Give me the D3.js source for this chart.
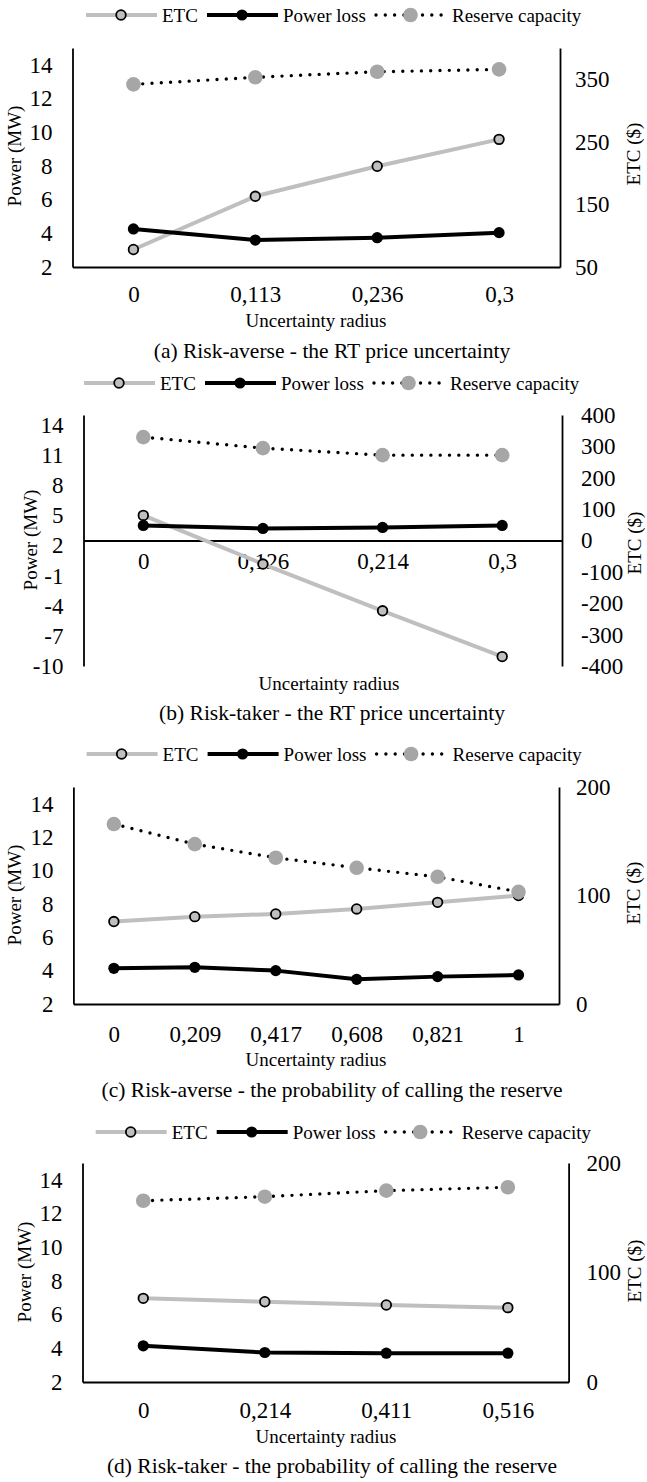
<!DOCTYPE html>
<html><head><meta charset="utf-8">
<script src="https://cdn.jsdelivr.net/npm/d3@7"></script>
<style>body{margin:0;background:#fff} svg{display:block;background:#fff}</style>
</head><body><svg id="c" width="647" height="1482"></svg>
<script>
// ---------- data ----------
const seriesNames = ["ETC", "Power loss", "Reserve capacity"];
const yLeftTitle = "Power (MW)";
const yRightTitle = "ETC ($)";
const xTitle = "Uncertainty radius";

// (a)
const catsA = ["0", "0,113", "0,236", "0,3"];
const etcA = [78, 163, 211, 254];
const lossA = [4.26, 3.60, 3.74, 4.04];
const reserveA = [12.84, 13.26, 13.59, 13.73];
const leftTicksA = [2, 4, 6, 8, 10, 12, 14];
const rightTicksA = [50, 150, 250, 350];
const captionA = "(a) Risk-averse - the RT price uncertainty";

// (b)
const catsB = ["0", "0,126", "0,214", "0,3"];
const etcB = [80, -75, -224, -370];
const lossB = [4.0, 3.7, 3.8, 4.0];
const reserveB = [12.8, 11.7, 11.0, 11.0];
const leftTicksB = [-10, -7, -4, -1, 2, 5, 8, 11, 14];
const rightTicksB = [-400, -300, -200, -100, 0, 100, 200, 300, 400];
const captionB = "(b) Risk-taker - the RT price uncertainty";

// (c)
const catsC = ["0", "0,209", "0,417", "0,608", "0,821", "1"];
const etcC = [76, 80.5, 83, 87.6, 93.7, 100];
const lossC = [4.14, 4.2, 4.0, 3.48, 3.64, 3.74];
const reserveC = [12.78, 11.58, 10.76, 10.16, 9.62, 8.72];
const leftTicksC = [2, 4, 6, 8, 10, 12, 14];
const rightTicksC = [0, 100, 200];
const captionC = "(c) Risk-averse - the probability of calling the reserve";

// (d)
const catsD = ["0", "0,214", "0,411", "0,516"];
const etcD = [76.4, 73.3, 70.3, 67.9];
const lossD = [4.15, 3.75, 3.71, 3.71];
const reserveD = [12.76, 13.0, 13.36, 13.56];
const leftTicksD = [2, 4, 6, 8, 10, 12, 14];
const rightTicksD = [0, 100, 200];
const captionD = "(d) Risk-taker - the probability of calling the reserve";

// ---------- layout ----------
const FONT = "'Liberation Serif', 'Times New Roman', serif";
const layoutA = {L:72.5, R:560, top:48, bottom:267, ld:[2,15], rd:[50,400], cross:null, xPad:18.5, rPad:15,
  legendX:86, legendY:15, xTitleX:316, xTitleY:327, captionY:358, lTitleX:21, lTitleY:156, rTitleX:640, rTitleY:154};
const layoutB = {L:83.5, R:562, top:415, bottom:666, ld:[-10,15], rd:[-400,400], cross:0, xPad:12.5, rPad:19,
  legendX:84, legendY:383, xTitleX:329, xTitleY:690, captionY:720, lTitleX:37, lTitleY:540, rTitleX:641, rTitleY:543};
const layoutC = {L:73.4, R:559, top:787, bottom:1004, ld:[2,15], rd:[0,200], cross:null, xPad:21.5, rPad:17,
  legendX:86.6, legendY:754, xTitleX:316, xTitleY:1066, captionY:1097, lTitleX:21, lTitleY:895, rTitleX:640, rTitleY:893};
const layoutD = {L:82.5, R:568.6, top:1163, bottom:1382, ld:[2,15], rd:[0,200], cross:null, xPad:19.5, rPad:18,
  legendX:95.7, legendY:1132, xTitleX:326, xTitleY:1443, captionY:1473, lTitleX:31, lTitleY:1272, rTitleX:641, rTitleY:1271};

const svg = d3.select("#c");
const CAPTION_X = 332;

const sty = {
  etcLine: "#bfbfbf", etcFill: "#bfbfbf", resFill: "#a6a6a6",
  lineW: 4, dotW: 3.4, dash: "0 9.3",
  rEtc: 4.8, rLoss: 5.6, rRes: 7.3
};

function styleAxis(g, size) {
  g.attr("font-family", null).attr("font-size", null);
  g.select(".domain").attr("stroke", "#000").attr("stroke-width", 1.8);
  g.selectAll("text").attr("fill", "#000").style("font-family", FONT).style("font-size", size + "px");
}

function drawLegend(p) {
  const g = svg.append("g").attr("transform", `translate(${p.legendX},${p.legendY})`);
  // ETC
  g.append("line").attr("x1", 0).attr("x2", 71).attr("y1", 0).attr("y2", 0)
    .attr("stroke", sty.etcLine).attr("stroke-width", sty.lineW);
  g.append("circle").attr("cx", 35).attr("cy", 0).attr("r", sty.rEtc)
    .attr("fill", sty.etcFill).attr("stroke", "#000").attr("stroke-width", 1.8);
  // Power loss
  g.append("line").attr("x1", 121).attr("x2", 192).attr("y1", 0).attr("y2", 0)
    .attr("stroke", "#000").attr("stroke-width", sty.lineW);
  g.append("circle").attr("cx", 156).attr("cy", 0).attr("r", sty.rLoss).attr("fill", "#000");
  // Reserve
  g.append("line").attr("x1", 290).attr("x2", 362).attr("y1", 0).attr("y2", 0)
    .attr("stroke", "#000").attr("stroke-width", sty.dotW)
    .attr("stroke-dasharray", sty.dash).attr("stroke-linecap", "round");
  g.append("circle").attr("cx", 324.5).attr("cy", 0).attr("r", sty.rRes).attr("fill", sty.resFill);
  const tx = [76, 197, 366];
  seriesNames.forEach((n, i) => {
    g.append("text").attr("x", tx[i]).attr("y", 6.5).text(n)
      .style("font-family", FONT).style("font-size", "19px").attr("fill", "#000");
  });
}

function panel(p, cats, etc, loss, res, lt, rt, caption) {
  const x = d3.scalePoint().domain(cats).range([p.L, p.R]).padding(0.5);
  const yL = d3.scaleLinear().domain(p.ld).range([p.bottom, p.top]);
  const yR = d3.scaleLinear().domain(p.rd).range([p.bottom, p.top]);
  const axisY = p.cross != null ? yR(p.cross) : p.bottom;

  drawLegend(p);

  const gl = svg.append("g").attr("transform", `translate(${p.L},0)`)
    .call(d3.axisLeft(yL).tickValues(lt).tickSize(0).tickPadding(20).tickFormat(d => String(d)));
  styleAxis(gl, 23);
  const gr = svg.append("g").attr("transform", `translate(${p.R},0)`)
    .call(d3.axisRight(yR).tickValues(rt).tickSize(0).tickPadding(p.rPad).tickFormat(d => String(d)));
  styleAxis(gr, 23);
  const gx = svg.append("g").attr("transform", `translate(0,${axisY})`)
    .call(d3.axisBottom(x).tickSize(0).tickPadding(p.xPad));
  styleAxis(gx, 23);

  const idx = d3.range(cats.length);
  // ETC
  svg.append("path").datum(idx)
    .attr("d", d3.line().x(i => x(cats[i])).y(i => yR(etc[i])))
    .attr("fill", "none").attr("stroke", sty.etcLine).attr("stroke-width", sty.lineW).attr("stroke-linejoin", "round");
  svg.append("g").selectAll("circle").data(idx).join("circle")
    .attr("cx", i => x(cats[i])).attr("cy", i => yR(etc[i])).attr("r", sty.rEtc)
    .attr("fill", sty.etcFill).attr("stroke", "#000").attr("stroke-width", 1.8);
  // Power loss
  svg.append("path").datum(idx)
    .attr("d", d3.line().x(i => x(cats[i])).y(i => yL(loss[i])))
    .attr("fill", "none").attr("stroke", "#000").attr("stroke-width", sty.lineW).attr("stroke-linejoin", "round");
  svg.append("g").selectAll("circle").data(idx).join("circle")
    .attr("cx", i => x(cats[i])).attr("cy", i => yL(loss[i])).attr("r", sty.rLoss).attr("fill", "#000");
  // Reserve capacity
  svg.append("path").datum(idx)
    .attr("d", d3.line().x(i => x(cats[i])).y(i => yL(res[i])))
    .attr("fill", "none").attr("stroke", "#000").attr("stroke-width", sty.dotW)
    .attr("stroke-dasharray", sty.dash).attr("stroke-linecap", "round");
  svg.append("g").selectAll("circle").data(idx).join("circle")
    .attr("cx", i => x(cats[i])).attr("cy", i => yL(res[i])).attr("r", sty.rRes).attr("fill", sty.resFill);

  // titles
  svg.append("text").attr("transform", `translate(${p.lTitleX},${p.lTitleY}) rotate(-90)`)
    .attr("text-anchor", "middle").text(yLeftTitle)
    .style("font-family", FONT).style("font-size", "19px").attr("fill", "#000");
  svg.append("text").attr("transform", `translate(${p.rTitleX},${p.rTitleY}) rotate(-90)`)
    .attr("text-anchor", "middle").text(yRightTitle)
    .style("font-family", FONT).style("font-size", "19px").attr("fill", "#000");
  svg.append("text").attr("x", p.xTitleX).attr("y", p.xTitleY)
    .attr("text-anchor", "middle").text(xTitle)
    .style("font-family", FONT).style("font-size", "19px").attr("fill", "#000");
  svg.append("text").attr("x", CAPTION_X).attr("y", p.captionY)
    .attr("text-anchor", "middle").text(caption)
    .style("font-family", FONT).style("font-size", "21.5px").attr("fill", "#000");
}

panel(layoutA, catsA, etcA, lossA, reserveA, leftTicksA, rightTicksA, captionA);
panel(layoutB, catsB, etcB, lossB, reserveB, leftTicksB, rightTicksB, captionB);
panel(layoutC, catsC, etcC, lossC, reserveC, leftTicksC, rightTicksC, captionC);
panel(layoutD, catsD, etcD, lossD, reserveD, leftTicksD, rightTicksD, captionD);
</script>
</body></html>
